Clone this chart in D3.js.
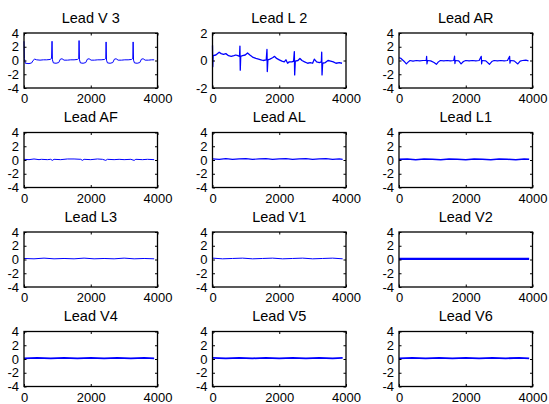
<!DOCTYPE html>
<html>
<head>
<meta charset="utf-8">
<script src="https://cdn.jsdelivr.net/npm/d3@7"></script>
<style>
  body { margin: 0; background: #fff; }
  svg { display: block; font-family: "Liberation Sans", Arial, sans-serif; }
  .tick text { font-size: 13px; fill: #000; font-family: "Liberation Sans", Arial, sans-serif; }
  .tick line { stroke: #000; }
  .title { font-size: 14.5px; fill: #000; }
</style>
</head>
<body>
<svg id="fig" width="549" height="404"></svg>
<script>
// sample index / amplitude pairs
const xTicks = [0, 2000, 4000];
const yTicksWide = [-4, -2, 0, 2, 4];
const yTicksNarrow = [-2, 0, 2];

const leadV3 = [[0,2.8],[12,0.3],[40,-0.4],[150,-0.45],[230,-0.35],[270,0.0],[320,0.2],[380,0.1],[480,0.05],[580,0.1],[680,0.1],[780,0.15],[825,0.3],[840,2.8],[852,0.1],[880,-0.35],[960,-0.4],[1040,-0.3],[1090,0.2],[1140,0.25],[1200,0.05],[1300,0.05],[1400,0.1],[1500,0.1],[1600,0.15],[1640,0.3],[1650,2.9],[1662,0.1],[1690,-0.35],[1770,-0.4],[1850,-0.3],[1900,0.2],[1950,0.25],[2010,0.05],[2110,0.05],[2210,0.1],[2310,0.1],[2410,0.15],[2450,0.3],[2460,2.7],[2472,0.05],[2500,-0.35],[2580,-0.4],[2660,-0.3],[2710,0.2],[2760,0.25],[2820,0.05],[2920,0.05],[3020,0.1],[3120,0.1],[3220,0.15],[3260,0.3],[3270,2.7],[3282,0.05],[3310,-0.35],[3390,-0.4],[3470,-0.3],[3520,0.2],[3570,0.25],[3630,0.05],[3730,0.05],[3820,0.1],[3900,0.1]];

const leadL2 = [[0,1.1],[8,-0.45],[20,0.35],[100,0.4],[200,0.6],[260,0.5],[330,0.45],[400,0.5],[480,0.35],[560,0.3],[640,0.35],[700,0.4],[760,0.35],[810,0.3],[822,1.05],[832,-0.7],[845,0.3],[900,0.35],[980,0.4],[1050,0.55],[1120,0.4],[1200,0.25],[1300,0.15],[1380,0.1],[1450,0.05],[1520,0.0],[1610,0.05],[1632,0.8],[1642,-0.8],[1660,0.05],[1720,0.1],[1800,0.2],[1860,0.3],[1920,0.15],[2000,0.05],[2080,-0.05],[2150,-0.1],[2200,0.05],[2250,-0.2],[2300,-0.1],[2380,-0.1],[2430,-0.05],[2452,0.65],[2462,-1.05],[2480,-0.05],[2560,0.0],[2620,0.15],[2680,0.0],[2760,-0.1],[2850,-0.2],[2930,-0.15],[3000,-0.2],[3050,0.1],[3120,-0.1],[3200,-0.15],[3262,-0.1],[3272,0.6],[3282,-1.05],[3300,-0.2],[3380,-0.15],[3460,0.0],[3540,-0.05],[3620,-0.1],[3700,-0.2],[3800,-0.15],[3880,-0.2]];

const leadAR = [[0,0.4],[60,0.3],[150,-0.1],[220,-0.5],[280,-0.2],[330,0.0],[420,-0.1],[520,0.0],[620,-0.05],[720,0.0],[815,0.0],[828,0.6],[838,-0.5],[855,0.0],[950,-0.05],[1050,-0.3],[1120,-0.55],[1180,-0.2],[1240,0.0],[1340,-0.05],[1440,0.0],[1540,-0.05],[1640,0.0],[1665,0.65],[1675,-0.45],[1690,0.0],[1790,-0.05],[1860,-0.5],[1930,-0.15],[2000,0.0],[2100,-0.05],[2200,0.0],[2300,-0.05],[2400,0.0],[2465,0.6],[2475,-0.5],[2490,0.0],[2600,-0.05],[2710,-0.55],[2780,-0.15],[2850,0.0],[2950,-0.05],[3050,0.0],[3150,-0.05],[3250,0.0],[3315,0.6],[3325,-0.4],[3340,0.0],[3450,-0.05],[3560,-0.5],[3630,-0.1],[3700,0.0],[3800,0.05],[3880,-0.05]];

const leadAF = [[0,0.1],[150,0.05],[300,0.15],[450,0.05],[520,0.1],[700,0.05],[800,0.1],[850,-0.05],[900,0.1],[1100,0.05],[1300,0.15],[1500,0.15],[1700,0.1],[1750,-0.05],[1800,0.1],[2000,0.05],[2200,0.15],[2350,0.1],[2450,-0.05],[2500,0.1],[2700,0.05],[2850,0.1],[3000,0.05],[3200,0.1],[3300,-0.05],[3350,0.1],[3550,0.05],[3700,0.1],[3900,0.05]];
const leadAL = [[0,0.15],[200,0.1],[400,0.2],[600,0.1],[800,0.15],[1000,0.2],[1200,0.1],[1400,0.15],[1600,0.2],[1800,0.1],[2000,0.15],[2200,0.2],[2400,0.1],[2600,0.15],[2800,0.2],[3000,0.1],[3200,0.15],[3400,0.2],[3600,0.1],[3800,0.15],[3900,0.1]];
const leadL1 = [[0,0.1],[250,0.15],[500,0.05],[750,0.15],[1000,0.1],[1250,0.05],[1500,0.15],[1750,0.1],[2000,0.05],[2250,0.15],[2500,0.1],[2750,0.05],[3000,0.15],[3250,0.1],[3500,0.05],[3750,0.15],[3900,0.1]];
const leadL3 = [[0,0.15],[300,0.1],[600,0.2],[900,0.1],[1200,0.15],[1500,0.1],[1800,0.2],[2100,0.1],[2400,0.15],[2700,0.1],[3000,0.2],[3300,0.1],[3600,0.15],[3900,0.1]];
const leadV1 = [[0,0.2],[300,0.1],[600,0.15],[900,0.2],[1200,0.1],[1500,0.15],[1800,0.2],[2100,0.1],[2400,0.15],[2700,0.2],[3000,0.1],[3300,0.15],[3600,0.2],[3900,0.1]];
const leadV2 = [[0,0.1],[500,0.1],[1000,0.1],[1500,0.1],[2000,0.1],[2500,0.1],[3000,0.1],[3500,0.1],[3900,0.1]];
const leadV4 = [[0,0.1],[400,0.15],[800,0.1],[1200,0.15],[1600,0.1],[2000,0.15],[2400,0.1],[2800,0.15],[3200,0.1],[3600,0.15],[3900,0.1]];
const leadV5 = [[0,0.15],[400,0.1],[800,0.15],[1200,0.1],[1600,0.15],[2000,0.1],[2400,0.15],[2800,0.1],[3200,0.15],[3600,0.1],[3900,0.15]];
const leadV6 = [[0,0.1],[400,0.15],[800,0.1],[1200,0.15],[1600,0.1],[2000,0.15],[2400,0.1],[2800,0.15],[3200,0.1],[3600,0.15],[3900,0.1]];

const titles = ["Lead V 3", "Lead L 2", "Lead AR", "Lead AF", "Lead AL", "Lead L1",
                "Lead L3", "Lead V1", "Lead V2", "Lead V4", "Lead V5", "Lead V6"];
const series = [leadV3, leadL2, leadAR, leadAF, leadAL, leadL1,
                leadL3, leadV1, leadV2, leadV4, leadV5, leadV6];

// layout (MATLAB subplot 4x3)
const colLeft = [24, 212.5, 399];
const rowTop = [33, 132.5, 232, 331.5];
const pw = 133.5, ph = 55;
const lineWidth = [1, 1.3, 1.2, 1, 1.2, 1.5, 1, 1, 2.2, 1.8, 1.8, 1.8];

const svg = d3.select("#fig");
const fmt = d3.format("d");

series.forEach((data, i) => {
    const r = Math.floor(i / 3), c = i % 3;
    const yTicks = i === 1 ? yTicksNarrow : yTicksWide;

    const x = d3.scaleLinear().domain([0, 4000]).range([0, pw]);
    const y = d3.scaleLinear().domain(d3.extent(yTicks)).range([ph, 0]);

    const g = svg.append("g")
        .attr("transform", `translate(${colLeft[c]},${rowTop[r]})`);

    // trace
    g.append("path")
        .datum(data)
        .attr("fill", "none")
        .attr("stroke", "#0000ff")
        .attr("stroke-width", lineWidth[i])
        .attr("stroke-linejoin", "round")
        .attr("d", d3.line().x(d => x(d[0])).y(d => y(d[1])));

    // axes, ticks pointing inward on all four sides
    g.append("g")
        .attr("transform", `translate(0,${ph})`)
        .call(d3.axisBottom(x).tickValues(xTicks).tickFormat(fmt).tickSizeInner(-2.5).tickSizeOuter(0).tickPadding(6))
        .call(a => a.select(".domain").remove());
    g.append("g")
        .call(d3.axisTop(x).tickValues(xTicks).tickSizeInner(-2.5).tickSizeOuter(0).tickFormat(""))
        .call(a => a.select(".domain").remove());
    g.append("g")
        .call(d3.axisLeft(y).tickValues(yTicks).tickFormat(d => fmt(d).replace("−", "-")).tickSizeInner(-2.5).tickSizeOuter(0).tickPadding(5))
        .call(a => a.select(".domain").remove());
    g.append("g")
        .attr("transform", `translate(${pw},0)`)
        .call(d3.axisRight(y).tickValues(yTicks).tickSizeInner(-2.5).tickSizeOuter(0).tickFormat(""))
        .call(a => a.select(".domain").remove());

    g.append("rect")
        .attr("width", pw)
        .attr("height", ph)
        .attr("fill", "none")
        .attr("stroke", "#000")
        .attr("stroke-width", 1.3);

    g.append("text")
        .attr("class", "title")
        .attr("x", pw / 2)
        .attr("y", -10.5)
        .attr("text-anchor", "middle")
        .text(titles[i]);
});
</script>
</body>
</html>
